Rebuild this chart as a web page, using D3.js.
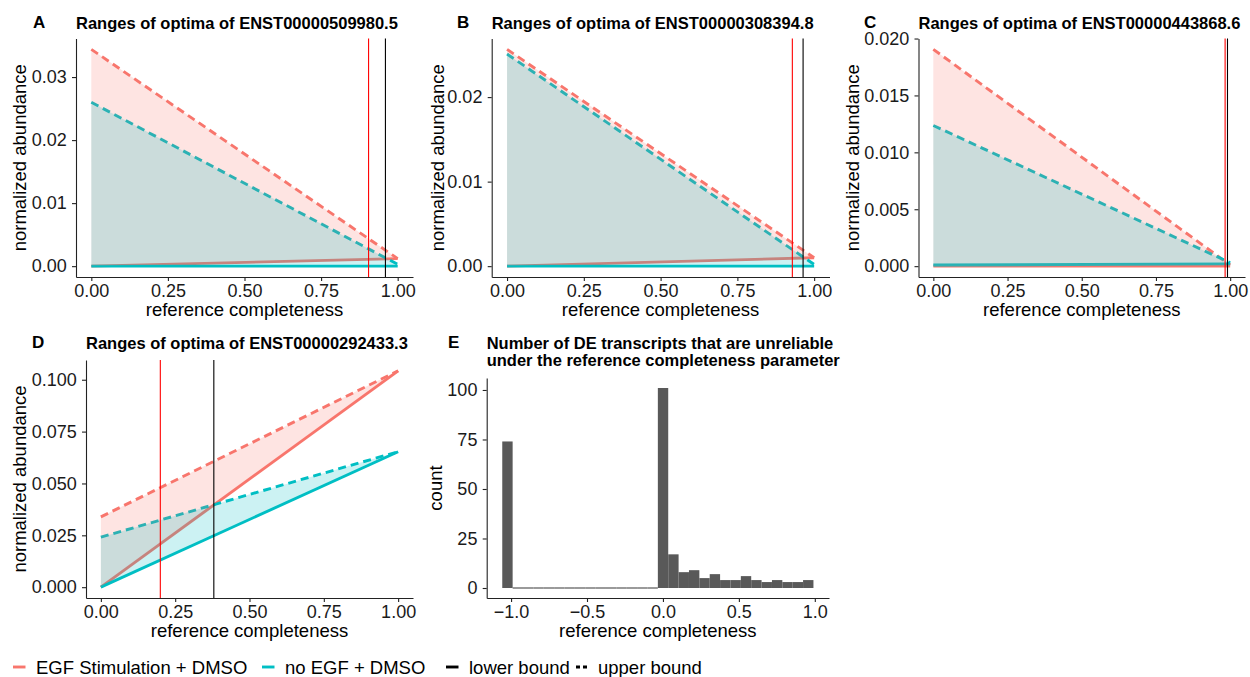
<!DOCTYPE html>
<html><head><meta charset="utf-8">
<script src="https://cdn.jsdelivr.net/npm/d3@7"></script>
<style>
body{margin:0;background:#fff}
svg{display:block}
text{font-family:"Liberation Sans",Arial,Helvetica,sans-serif}
</style>
</head><body>
<svg id="chart" width="1250" height="677"></svg>
<script>
// ---------------- DATA ----------------
const completeness = [0, 1];              // x positions of the range lines
const groups = ["EGF Stimulation + DMSO", "no EGF + DMSO"];
const groupColors = ["#F8766D", "#00BFC4"];
const boundLabels = ["lower bound", "upper bound"];

const titleA = "Ranges of optima of ENST00000509980.5";
const aEgfLower = [0, 0.0012];
const aEgfUpper = [0.0344, 0.0012];
const aNoLower  = [0, 0];
const aNoUpper  = [0.0260, 0.0003];
const aCut      = [0.905, 0.960];           // red, black
const aYTicks   = [0, 0.01, 0.02, 0.03];

const titleB = "Ranges of optima of ENST00000308394.8";
const bEgfLower = [0, 0.0010];
const bEgfUpper = [0.02565, 0.0010];
const bNoLower  = [0, 0];
const bNoUpper  = [0.0251, 0.0002];
const bCut      = [0.929, 0.964];
const bYTicks   = [0, 0.01, 0.02];

const titleC = "Ranges of optima of ENST00000443868.6";
const cEgfLower = [0, 0];
const cEgfUpper = [0.01905, 0.0001];
const cNoLower  = [0.0001, 0.0002];
const cNoUpper  = [0.01236, 0.0003];
const cCut      = [0.983, 0.991];
const cYTicks   = [0, 0.005, 0.010, 0.015, 0.020];

const titleD = "Ranges of optima of ENST00000292433.3";
const dEgfLower = [0, 0.1043];
const dEgfUpper = [0.0339, 0.1043];
const dNoLower  = [0, 0.0653];
const dNoUpper  = [0.0241, 0.0653];
const dCut      = [0.20, 0.38];
const dYTicks   = [0, 0.025, 0.050, 0.075, 0.100];

const xTicksLine = [0, 0.25, 0.5, 0.75, 1];

const titleE = ["Number of DE transcripts that are unreliable", "under the reference completeness parameter"];
const histCounts = [74, 0,0,0,0,0,0,0,0,0,0,0,0,0,0, 101, 17, 8, 9, 5, 7, 4, 4, 6, 4, 3, 4, 3, 3, 4];
const histBinStart = -1.058;
const histBinWidth = 0.0683;
const eXTicks = [-1, -0.5, 0, 0.5, 1];
const eYTicks = [0, 25, 50, 75, 100];

// ---------------- DRAW ----------------
const svg = d3.select("#chart");
const FS_TICK = 18, FS_AXT = 18.5, FS_TITLE = 16.5;
const AXIS_COL = "#222";

function expand(lo, hi) { const d = (hi - lo) * 0.05; return [lo - d, hi + d]; }

function styleAxis(g) {
  g.select(".domain").attr("stroke", AXIS_COL).attr("stroke-width", 1.1);
  g.selectAll(".tick line").attr("stroke", AXIS_COL).attr("stroke-width", 1.1);
  g.selectAll(".tick text").attr("fill", "#1a1a1a").style("font-size", FS_TICK + "px")
    .style("font-family", '"Liberation Sans",Arial,sans-serif');
}

function axesAndTitles(box, x, y, xTicks, xFmt, yTicks, yFmt, yTitle, yTitleX, titleLines, label, labelX, titleBaseline) {
  const [L, T, R, B] = box;
  const gx = svg.append("g").attr("transform", `translate(0,${B})`)
    .call(d3.axisBottom(x).tickValues(xTicks).tickFormat(d3.format(xFmt)).tickSize(4).tickSizeOuter(0).tickPadding(3.2));
  styleAxis(gx);
  const gy = svg.append("g").attr("transform", `translate(${L},0)`)
    .call(d3.axisLeft(y).tickValues(yTicks).tickFormat(d3.format(yFmt)).tickSize(4).tickSizeOuter(0).tickPadding(5.3));
  styleAxis(gy);
  svg.append("text").attr("x", (L + R) / 2).attr("y", B + 39).attr("text-anchor", "middle")
    .style("font-size", FS_AXT + "px").attr("fill", "#000").text("reference completeness");
  svg.append("text").attr("transform", `translate(${yTitleX},${(T + B) / 2}) rotate(-90)`)
    .attr("text-anchor", "middle").style("font-size", FS_AXT + "px").attr("fill", "#000").text(yTitle);
  titleLines.forEach((t, i) => {
    svg.append("text").attr("x", L).attr("y", titleBaseline + i * 16.7)
      .style("font-size", FS_TITLE + "px").style("font-weight", "bold").attr("fill", "#000").text(t);
  });
  svg.append("text").attr("x", labelX).attr("y", titleBaseline - 1)
    .style("font-size", "17px").style("font-weight", "bold").attr("fill", "#000").text(label);
}

function linePanel(cfg) {
  const [L, T, R, B] = cfg.box;
  const allY = [].concat(cfg.egfLo, cfg.egfUp, cfg.noLo, cfg.noUp);
  const x = d3.scaleLinear().domain(expand(0, 1)).range([L, R]);
  const y = d3.scaleLinear().domain(expand(Math.min(0, d3.min(allY)), d3.max(allY))).range([B, T]);
  const pts = arr => completeness.map((c, i) => [c, arr[i]]);
  const line = d3.line().x(d => x(d[0])).y(d => y(d[1]));
  const area = d3.area().x((d, i) => x(completeness[i])).y0(d => y(d[0])).y1(d => y(d[1]));
  const sets = [[cfg.egfLo, cfg.egfUp, groupColors[0]], [cfg.noLo, cfg.noUp, groupColors[1]]];
  // lines first
  sets.forEach(([lo, up, col]) => {
    svg.append("path").attr("d", line(pts(lo))).attr("fill", "none").attr("stroke", col).attr("stroke-width", 2.9);
    svg.append("path").attr("d", line(pts(up))).attr("fill", "none").attr("stroke", col).attr("stroke-width", 2.9)
      .attr("stroke-dasharray", "8,5");
  });
  // ribbons on top
  sets.forEach(([lo, up, col]) => {
    svg.append("path").attr("d", area(lo.map((v, i) => [v, up[i]]))).attr("fill", col).attr("fill-opacity", 0.2);
  });
  // cut-off lines
  [["#FF0000", cfg.cut[0]], ["#000000", cfg.cut[1]]].forEach(([col, v]) => {
    svg.append("line").attr("x1", x(v)).attr("x2", x(v)).attr("y1", T).attr("y2", B)
      .attr("stroke", col).attr("stroke-width", 1.1);
  });
  axesAndTitles(cfg.box, x, y, xTicksLine, ".2f", cfg.yTicks, cfg.yFmt, "normalized abundance",
    cfg.yTitleX, [cfg.title], cfg.label, cfg.labelX, cfg.titleY);
}

linePanel({box: [76, 38.5, 413, 277], egfLo: aEgfLower, egfUp: aEgfUpper, noLo: aNoLower, noUp: aNoUpper,
  cut: aCut, yTicks: aYTicks, yFmt: ".2f", title: titleA, label: "A", labelX: 33, yTitleX: 25.5, titleY: 28.5});
linePanel({box: [491.7, 38.5, 829.5, 277], egfLo: bEgfLower, egfUp: bEgfUpper, noLo: bNoLower, noUp: bNoUpper,
  cut: bCut, yTicks: bYTicks, yFmt: ".2f", title: titleB, label: "B", labelX: 457, yTitleX: 443.5, titleY: 28.5});
linePanel({box: [918.5, 38.5, 1245, 277], egfLo: cEgfLower, egfUp: cEgfUpper, noLo: cNoLower, noUp: cNoUpper,
  cut: cCut, yTicks: cYTicks, yFmt: ".3f", title: titleC, label: "C", labelX: 864, yTitleX: 858.5, titleY: 28.5});
linePanel({box: [86, 360, 413, 598], egfLo: dEgfLower, egfUp: dEgfUpper, noLo: dNoLower, noUp: dNoUpper,
  cut: dCut, yTicks: dYTicks, yFmt: ".3f", title: titleD, label: "D", labelX: 32, yTitleX: 25.5, titleY: 349.3});

// histogram E
(function () {
  const box = [486.7, 378, 829, 598];
  const [L, T, R, B] = box;
  const bins = histCounts.map((c, i) => ({x0: histBinStart + i * histBinWidth, x1: histBinStart + (i + 1) * histBinWidth, c}));
  const x = d3.scaleLinear().domain(expand(bins[0].x0, bins[bins.length - 1].x1)).range([L, R]);
  const y = d3.scaleLinear().domain(expand(0, d3.max(histCounts))).range([B, T]);
  svg.append("g").selectAll("rect").data(bins).join("rect")
    .attr("x", d => x(d.x0)).attr("width", d => x(d.x1) - x(d.x0))
    .attr("y", d => d.c > 0 ? y(d.c) : y(0) - 0.6)
    .attr("height", d => d.c > 0 ? y(0) - y(d.c) : 1.2)
    .attr("fill", "#595959");
  axesAndTitles(box, x, y, eXTicks, ".1f", eYTicks, "d", "count", 441.7, titleE, "E", 448, 349.3);
})();

// legend
(function () {
  const yL = 667, yT = 673.5;
  const items = [
    {x: 13, tx: 36, col: groupColors[0], dash: null, text: groups[0]},
    {x: 262, tx: 285, col: groupColors[1], dash: null, text: groups[1]},
    {x: 446, tx: 469, col: "#000", dash: null, text: boundLabels[0]},
    {x: 576, tx: 598, col: "#000", dash: "4,3", text: boundLabels[1]}
  ];
  items.forEach(it => {
    svg.append("line").attr("x1", it.x).attr("x2", it.x + 12.5).attr("y1", yL).attr("y2", yL)
      .attr("stroke", it.col).attr("stroke-width", 2.9).attr("stroke-dasharray", it.dash);
    svg.append("text").attr("x", it.tx).attr("y", yT).style("font-size", FS_AXT + "px").attr("fill", "#000").text(it.text);
  });
})();
</script>
</body></html>
